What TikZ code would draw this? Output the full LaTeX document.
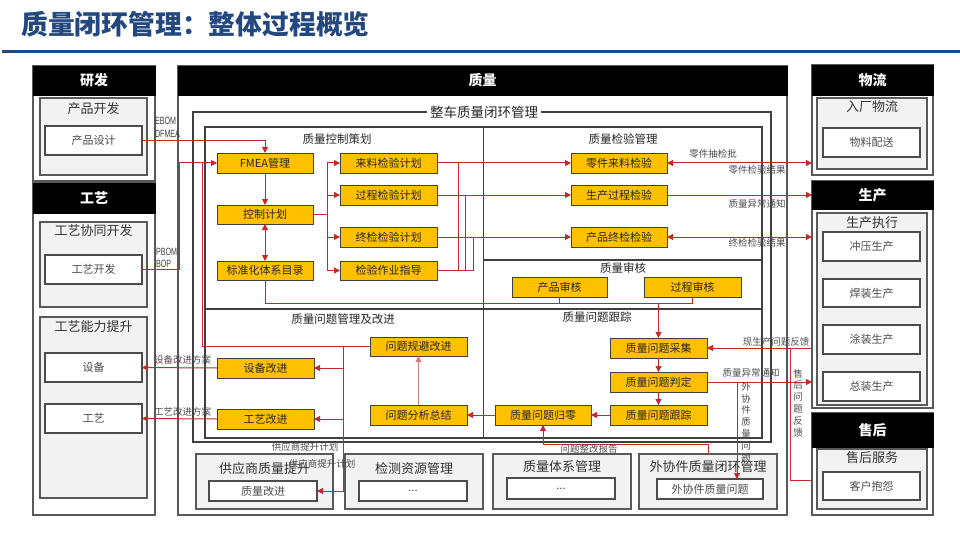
\documentclass[tikz,border=0pt]{standalone}
\usepackage{fontspec}
\setmainfont{Noto Sans CJK SC}
\newfontfamily\latf[FakeStretch=0.68]{Liberation Sans}
\usetikzlibrary{arrows.meta}
\definecolor{tblue}{HTML}{23487F}
\definecolor{redl}{HTML}{C62828}
\definecolor{gborder}{HTML}{595959}
\definecolor{gfill}{HTML}{F2F2F2}
\definecolor{orng}{HTML}{FFC000}
\newcommand\bx[7]{\node[#6, minimum width={(#4-#2)*1pt}, minimum height={(#5-#3)*1pt}] (#1) at ({(#2+#4)/2},{(#3+#5)/2}) {#7};}
\tikzset{
 base/.style={inner sep=0pt, outer sep=0pt, align=center},
 hdr/.style={base, fill=black, draw=black, text=white, font=\fontsize{14}{16}\selectfont\bfseries},
 outerbox/.style={base, draw=gborder, line width=1.5pt, fill=white},
 framebox/.style={base, draw=black!75, line width=1.1pt},
 graybox/.style={base, draw=gborder, line width=1.3pt, fill=gfill},
 whitebox/.style={base, draw=black!70, line width=1.2pt, fill=white, text=black!70, font=\fontsize{11}{13}\selectfont},
 obox/.style={base, draw=black!75, line width=0.8pt, fill=orng, text=black!85, font=\fontsize{11}{13}\selectfont},
 gtitle/.style={base, text=black!80, font=\fontsize{13}{15}\selectfont},
 stitle/.style={base, text=black!85, font=\fontsize{11.5}{14}\selectfont},
 lbl/.style={base, text=black!70, font=\fontsize{9.5}{11}\selectfont},
 vlbl/.style={base, text=black!70, font=\fontsize{9.5}{11.8}\selectfont},
 elbl/.style={base, text=black!75, font=\latf\fontsize{10.5}{12}\selectfont},
 divl/.style={draw=black!75, line width=1.1pt},
 rline/.style={draw=redl, line width=1pt},
 rarr/.style={rline, -{Triangle[length=6pt,width=6pt]}},
 rdarr/.style={rline, {Triangle[length=6pt,width=6pt]}-{Triangle[length=6pt,width=6pt]}},
}
\begin{document}
\begin{tikzpicture}[x=1pt,y=-1pt]
\useasboundingbox (0,0) rectangle (960,540);
% title
\node[anchor=west, inner sep=0pt, text=tblue, font=\fontsize{26.8}{30}\selectfont\bfseries] (title) at (21,24) {质量闭环管理：整体过程概览};
\coordinate (tl-a) at (2,52); \coordinate (tl-b) at (960,52);
\draw[tblue, line width=3pt] (tl-a) -- (tl-b);

% ---------- left column ----------
\bx{yf-o}{33}{66}{155}{181}{outerbox}{}
\bx{yf-h}{33}{66}{155}{95}{hdr}{研发}
\bx{cpkf}{40}{98}{147}{175}{graybox}{}
\node[gtitle] (cpkf-t) at (93.5,109) {产品开发};
\bx{cpsj}{45}{126}{142}{155}{whitebox}{产品设计}
\bx{gy-o}{33}{183}{155}{515}{outerbox}{}
\bx{gy-h}{33}{183}{155}{213}{hdr}{工艺}
\bx{gyxt}{40}{222}{147}{307}{graybox}{}
\node[gtitle] (gyxt-t) at (93.5,231) {工艺协同开发};
\bx{gykf}{45}{255}{142}{284}{whitebox}{工艺开发}
\bx{gynl}{40}{317}{147}{498}{graybox}{}
\node[gtitle] (gynl-t) at (93.5,327) {工艺能力提升};
\bx{sb}{45}{353}{142}{382}{whitebox}{设备}
\bx{gy}{45}{404}{142}{433}{whitebox}{工艺}

% ---------- right column ----------
\bx{wl-o}{812}{65}{933}{175}{outerbox}{}
\bx{wl-h}{812}{65}{933}{95}{hdr}{物流}
\bx{rcwl}{817}{98}{927}{169}{graybox}{}
\node[gtitle] (rcwl-t) at (872,107) {入厂物流};
\bx{wlps}{823}{128}{920}{157}{whitebox}{物料配送}
\bx{sc-o}{812}{181}{933}{408}{outerbox}{}
\bx{sc-h}{812}{181}{933}{209}{hdr}{生产}
\bx{sczx}{817}{213}{927}{405}{graybox}{}
\node[gtitle] (sczx-t) at (872,223) {生产执行};
\bx{cysc}{823}{232}{920}{261}{whitebox}{冲压生产}
\bx{hzsc}{823}{279}{920}{307}{whitebox}{焊装生产}
\bx{tzsc}{823}{325}{920}{354}{whitebox}{涂装生产}
\bx{zzsc}{823}{372}{920}{401}{whitebox}{总装生产}
\bx{sh-o}{812}{413}{933}{515}{outerbox}{}
\bx{sh-h}{812}{413}{933}{447}{hdr}{售后}
\bx{shfw}{817}{449}{927}{509}{graybox}{}
\node[gtitle] (shfw-t) at (872,458) {售后服务};
\bx{khbj}{823}{472}{920}{500}{whitebox}{客户抱怨}

% ---------- centre ----------
\bx{zl-o}{178}{66}{787}{515}{outerbox}{}
\bx{zl-h}{178}{66}{787}{95}{hdr}{质量}
\bx{zc}{193}{112}{771}{442}{framebox}{}
\node[base, fill=white, inner xsep=3pt, text=black!85, font=\fontsize{13.5}{15}\selectfont] (zc-t) at (484,112) {整车质量闭环管理};
\bx{qd}{205}{127}{762}{438}{framebox}{}
\coordinate (d-t) at (483.5,127); \coordinate (d-b) at (483.5,438);
\draw[divl] (d-t) -- (d-b);
\coordinate (d-l2) at (205,309); \coordinate (d-r2) at (762,309);
\draw[divl] (d-l2) -- (d-r2);
\coordinate (d-m1) at (483.5,260); \coordinate (d-r1) at (762,260);
\draw[divl] (d-m1) -- (d-r1);

\node[stitle] (t-kzch) at (337,139) {质量控制策划};
\node[stitle] (t-jygl) at (623,139) {质量检验管理};
\node[stitle] (t-zlsh) at (623,268) {质量审核};
\node[stitle] (t-wtgl) at (343,319) {质量问题管理及改进};
\node[stitle] (t-wtgz) at (597,317) {质量问题跟踪};

% bottom boxes
\bx{gys}{196}{454}{333}{509}{graybox}{}
\node[gtitle] (gys-t) at (264.5,469) {供应商质量提升};
\bx{zlgj}{209}{481}{317}{501}{whitebox}{质量改进}
\bx{jczy}{345}{454}{483}{509}{graybox}{}
\node[gtitle] (jczy-t) at (414,469) {检测资源管理};
\bx{jczy-b}{359}{481}{467}{501}{whitebox}{...}
\bx{txgl}{493}{454}{631}{509}{graybox}{}
\node[gtitle] (txgl-t) at (562,467) {质量体系管理};
\bx{txgl-b}{507}{478}{615}{499}{whitebox}{...}
\bx{wxgl}{639}{454}{777}{509}{graybox}{}
\node[gtitle] (wxgl-t) at (708,467) {外协件质量闭环管理};
\bx{wxwt}{657}{479}{763}{499}{whitebox}{外协件质量问题}

% orange boxes
\bx{fmea}{217}{153}{313}{173}{obox}{FMEA管理}
\bx{kzjh}{217}{205}{313}{224}{obox}{控制计划}
\bx{bzh}{217}{261}{313}{280}{obox}{标准化体系目录}
\bx{lljh}{340}{153}{437}{173}{obox}{来料检验计划}
\bx{gcjh}{340}{185}{437}{205}{obox}{过程检验计划}
\bx{zjjh}{340}{227}{437}{247}{obox}{终检检验计划}
\bx{jyzd}{340}{261}{437}{280}{obox}{检验作业指导}
\bx{ljll}{571}{153}{667}{173}{obox}{零件来料检验}
\bx{scgc}{571}{185}{667}{205}{obox}{生产过程检验}
\bx{cpzj}{571}{227}{667}{247}{obox}{产品终检检验}
\bx{cpsh}{512}{277}{607}{297}{obox}{产品审核}
\bx{gcsh}{644}{277}{741}{297}{obox}{过程审核}
\bx{gbjgj}{370}{337}{467}{356}{obox}{问题规避改进}
\bx{sbgj}{217}{358}{314}{378}{obox}{设备改进}
\bx{gygj}{217}{409}{314}{429}{obox}{工艺改进}
\bx{fxzj}{370}{405}{467}{425}{obox}{问题分析总结}
\bx{cjwt}{610}{338}{707}{358}{obox}{质量问题采集}
\bx{pdwt}{610}{372}{707}{392}{obox}{质量问题判定}
\bx{gzwt}{610}{405}{707}{425}{obox}{质量问题跟踪}
\bx{glwt}{495}{405}{591}{425}{obox}{质量问题归零}

% ---------- connectors ----------
\draw[rarr] (cpsj.east) -| (fmea.north);
\coordinate (c-pbom) at (179,163);
\draw[rline] (gykf.east) -| (c-pbom);
\draw[rarr] (c-pbom) -- (fmea.west);
\coordinate (c-loop) at (202,163);
\draw[rline] (gbjgj.west) -| (c-loop);

\draw[rarr] (fmea.south) -- (kzjh.north);
\draw[rdarr] (kzjh.south) -- (bzh.north);
\coordinate (c-split) at (327,214.5);
\draw[rline] (kzjh.east) -- (c-split);
\draw[rarr] (c-split) |- (lljh.west);
\draw[rarr] (c-split) |- (gcjh.west);
\draw[rarr] (c-split) |- (zjjh.west);
\draw[rarr] (c-split) |- (jyzd.west);

\draw[rarr] (lljh.east) -- (ljll.west);
\draw[rarr] (gcjh.east) -- (scgc.west);
\draw[rarr] (zjjh.east) -- (cpzj.west);
\coordinate (c-j1) at (458,163); \coordinate (c-j2) at (465,195); \coordinate (c-j3) at (473,237);
\draw[rline] (jyzd.east) -| (c-j3);
\draw[rline] (jyzd.east -| c-j1) -- (c-j1);
\draw[rline] (jyzd.east -| c-j2) -- (c-j2);

\draw[rdarr] (ljll.east) -- (wl-o.west |- ljll.east);
\draw[rarr] (scgc.east) -- (sc-o.west |- scgc.east);
\draw[rdarr] (cpzj.east) -- (sc-o.west |- cpzj.east);

\coordinate (c-aud) at (692.5,303);
\draw[rline] (bzh.south) |- (c-aud) -- (gcsh.south);
\draw[rline] (cpsh.south) -- (cpsh.south |- c-aud);
\draw[rarr] (cjwt.north |- c-aud) -- (cjwt.north);

\draw[rarr] (cjwt.south) -- (pdwt.north);
\draw[rarr] (pdwt.south) -- (gzwt.north);
\draw[rarr] (gzwt.west) -- (glwt.east);
\draw[rarr] (glwt.west) -- (fxzj.east);
\draw[rarr, draw=redl!60] (fxzj.north) -- (gbjgj.south);

\coordinate (c-v1) at (343,346.5);
\draw[rarr] (c-v1) |- (zlgj.east);
\draw[rarr] (c-v1 |- sbgj.east) -- (sbgj.east);
\draw[rarr] (c-v1 |- gygj.east) -- (gygj.east);
\draw[rarr] (sbgj.west) -- (sb.east);
\draw[rarr] (gygj.west) -- (gy.east);

\draw[rarr] (pdwt.east) -- (sc-o.west |- pdwt.east);
\coordinate (c-wx) at (737,382);
\draw[rarr] (c-wx) -- (c-wx |- wxwt.north);

\draw[rarr] (sc-o.west |- cjwt.east) -- (cjwt.east);
\coordinate (c-shv) at (790,348);
\coordinate (c-sh) at (812,480);
\draw[rline] (c-sh) -| (c-shv);

\coordinate (c-rep) at (708,444);
\draw[rline] (wxgl.north) -- (c-rep);
\draw[rarr] (c-rep) -| (glwt.south);

% ---------- labels ----------
\node[elbl, anchor=west] (lb-ebom) at (155,121) {EBOM};
\node[elbl, anchor=west] (lb-dfmea) at (155,134) {DFMEA};
\node[elbl, anchor=west] (lb-pbom) at (156,252) {PBOM};
\node[elbl, anchor=west] (lb-bop) at (156,264) {BOP};
\node[lbl] (lb-ljcj) at (713,154) {零件抽检批};
\node[lbl] (lb-ljjg) at (757,170) {零件检验结果};
\node[lbl] (lb-yc1) at (757,204) {质量异常通知};
\node[lbl] (lb-zjjg) at (757,243) {终检检验结果};
\node[lbl] (lb-xsc) at (776,342) {现生产问题反馈};
\node[lbl] (lb-yc2) at (751,373) {质量异常通知};
\node[lbl, anchor=west] (lb-sbfa) at (154,360) {设备改进方案};
\node[lbl, anchor=west] (lb-gyfa) at (154,412) {工艺改进方案};
\node[lbl] (lb-gys1) at (305,447) {供应商提升计划};
\node[lbl] (lb-gys2) at (322,464) {供应商提升计划};
\node[lbl] (lb-zgbg) at (589,449) {问题整改报告};
\node[vlbl] (lb-wxv) at (746,422) {外\\协\\件\\质\\量\\问\\题};
\node[vlbl] (lb-shv) at (798,403) {售\\后\\问\\题\\反\\馈};
\end{tikzpicture}
\end{document}
